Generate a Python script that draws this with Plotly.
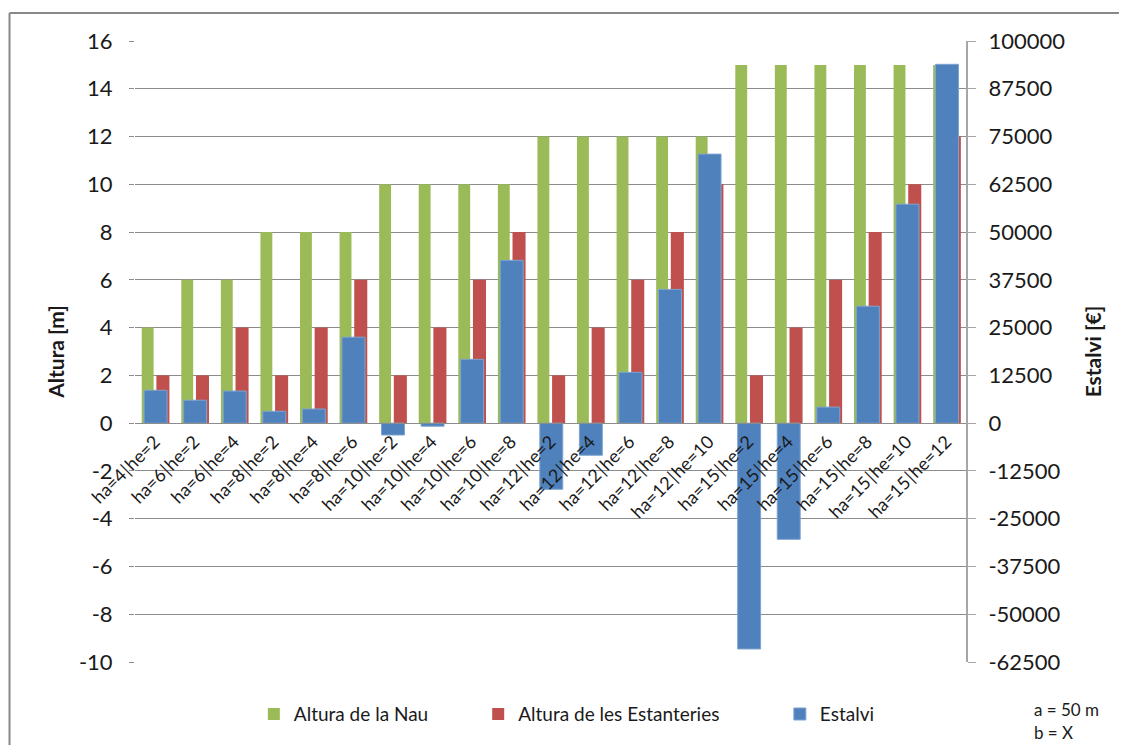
import plotly.graph_objects as go

HS = "\u200a"
pairs = [(4, 2), (6, 2), (6, 4), (8, 2), (8, 4), (8, 6),
         (10, 2), (10, 4), (10, 6), (10, 8),
         (12, 2), (12, 4), (12, 6), (12, 8), (12, 10),
         (15, 2), (15, 4), (15, 6), (15, 8), (15, 10), (15, 12)]
categories = [f"ha={a}{HS}|{HS}he={e}" for a, e in pairs]

altura_nau = [4, 6, 6, 8, 8, 8, 10, 10, 10, 10, 12, 12, 12, 12, 12, 15, 15, 15, 15, 15, 15]
altura_estanteries = [2, 2, 4, 2, 4, 6, 2, 4, 6, 8, 2, 4, 6, 8, 10, 2, 4, 6, 8, 10, 12]
estalvi = [8600, 6000, 8400, 3100, 3700, 22500, -3100, -800, 16700, 42600,
           -17300, -8400, 13300, 35000, 70400, -59100, -30400, 4200, 30600, 57300, 93900]

left_ticks = list(range(-10, 17, 2))
right_ticks = list(range(-62500, 100001, 12500))

FONT = "Lato"
GRID = "#8c8c8c"

fig = go.Figure()

fig.add_trace(go.Bar(x=categories, y=altura_nau, name="Altura de la Nau",
                     marker=dict(color="#9BBB59", line=dict(width=0)),
                     width=0.30, offset=-0.33, yaxis="y", legend="legend"))
fig.add_trace(go.Bar(x=categories, y=altura_estanteries, name="Altura de les Estanteries",
                     marker=dict(color="#C0504D", line=dict(width=0)),
                     width=0.33, offset=0.04, yaxis="y", legend="legend2"))
fig.add_trace(go.Bar(x=categories, y=estalvi, name="Estalvi",
                     marker=dict(color="#4F81BD", line=dict(width=1, color="#7fa3cf")),
                     width=0.58, offset=-0.27, yaxis="y2", legend="legend3"))

leg = dict(orientation="h", y=-0.084, yanchor="middle", xanchor="left",
           font=dict(size=19), itemwidth=30, bgcolor="rgba(0,0,0,0)")

# page body adds an 8px offset, so the figure is drawn 8px smaller
fig.update_layout(
    width=1119, height=737,
    margin=dict(l=127, r=161, t=33, b=83, autoexpand=False),
    paper_bgcolor="white", plot_bgcolor="white",
    font=dict(family=FONT, size=19, color="#1a1a1a"),
    barmode="overlay",
    showlegend=True,
    legend=dict(leg, x=0.143),
    legend2=dict(leg, x=0.413),
    legend3=dict(leg, x=0.776),
    xaxis=dict(type="category", anchor="free", position=10 / 26,
               tickangle=-45, tickfont=dict(size=18), showline=True, linecolor=GRID,
               linewidth=1, ticks="", showgrid=False, automargin=False),
    yaxis=dict(range=[-10, 16], tickvals=left_ticks, ticktext=[str(v) for v in left_ticks],
               showgrid=True, gridcolor=GRID, automargin=False,
               gridwidth=1, zeroline=False, ticks="outside", ticklen=5, tickcolor=GRID,
               tickfont=dict(size=22), ticklabelstandoff=12,
               title=dict(text="<b>Altura [m]</b>", font=dict(size=21), standoff=8)),
    yaxis2=dict(range=[-62500, 100000], tickvals=right_ticks,
                ticktext=[str(v) for v in right_ticks], overlaying="y", side="right",
                showgrid=False, zeroline=False, showline=True, linecolor="#a6a6a6", linewidth=2,
                ticks="outside", ticklen=8, tickcolor="#a6a6a6", automargin=False,
                tickfont=dict(size=22), ticklabelstandoff=8,
                title=dict(text="<b>Estalvi [€]</b>", font=dict(size=21), standoff=22)),
)

fig.add_annotation(text="a = 50 m", xref="paper", yref="paper", x=1.08, y=-0.077,
                   xanchor="left", yanchor="middle", showarrow=False, font=dict(size=17))
fig.add_annotation(text="b = X", xref="paper", yref="paper", x=1.08, y=-0.114,
                   xanchor="left", yanchor="middle", showarrow=False, font=dict(size=17))

# chart frame (only the top and left edges fall inside the picture)
fig.add_shape(type="line", xref="paper", yref="paper", x0=-0.151, x1=1.25, y0=1.045, y1=1.045,
              line=dict(color="#888888", width=2), layer="below")
fig.add_shape(type="line", xref="paper", yref="paper", x0=-0.151, x1=-0.151, y0=-0.2, y1=1.045,
              line=dict(color="#888888", width=2), layer="below")

fig.write_html("out.html")
